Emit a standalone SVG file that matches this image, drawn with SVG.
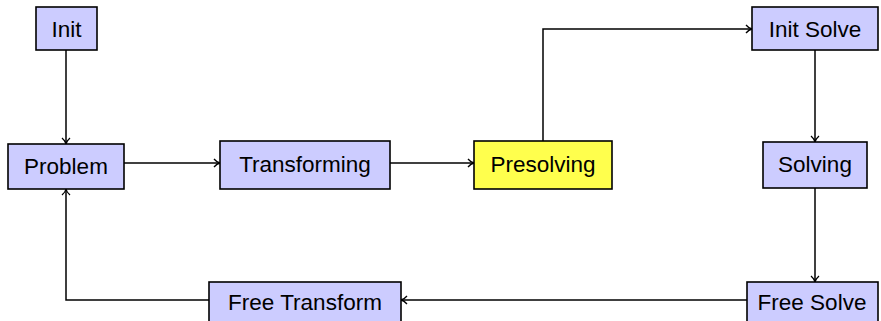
<svg xmlns="http://www.w3.org/2000/svg" width="881" height="321" viewBox="0 0 881 321">
<style>
.box{fill:#ccccff;stroke:#000;stroke-width:1.6}
.hl{fill:#ffff4d;stroke:#000;stroke-width:1.6}
text{font-family:"Liberation Sans","DejaVu Sans",sans-serif;font-size:22.5px;fill:#000;text-anchor:middle}
.edge{fill:none;stroke:#000;stroke-width:1.5;marker-end:url(#arr)}
</style>
<defs>
<marker id="arr" viewBox="0 0 10 10" refX="9" refY="5" markerWidth="10" markerHeight="10" markerUnits="userSpaceOnUse" orient="auto">
<path d="M3,1 Q6,4.5 9,5 Q6,5.5 3,9" fill="none" stroke="#000" stroke-width="1.3"/>
</marker>
</defs>
<g id="connectors">
<path class="edge" d="M66,50 V144"/>
<path class="edge" d="M124,163 H220"/>
<path class="edge" d="M390,163 H474"/>
<path class="edge" d="M543,141 V29 H752"/>
<path class="edge" d="M815,50 V142"/>
<path class="edge" d="M815,188 V282"/>
<path class="edge" d="M747,300 H401"/>
<path class="edge" d="M209,300 H66 V189"/>
</g>
<g id="init"><rect class="box" x="36" y="7" width="61" height="43"/><text x="66.5" y="37">Init</text></g>
<g id="problem"><rect class="box" x="8" y="144" width="116" height="45"/><text x="66" y="174">Problem</text></g>
<g id="transforming"><rect class="box" x="220" y="141" width="170" height="48"/><text x="305" y="172">Transforming</text></g>
<g id="presolving"><rect class="hl" x="474" y="141" width="138" height="48"/><text x="543" y="172">Presolving</text></g>
<g id="initsolve"><rect class="box" x="752" y="7" width="126" height="43"/><text x="815" y="37">Init Solve</text></g>
<g id="solving"><rect class="box" x="763" y="142" width="104" height="46"/><text x="815" y="172">Solving</text></g>
<g id="freesolve"><rect class="box" x="747" y="282" width="131" height="45"/><text x="812" y="310">Free Solve</text></g>
<g id="freetransform"><rect class="box" x="209" y="282" width="192" height="45"/><text x="305" y="310">Free Transform</text></g>
</svg>
